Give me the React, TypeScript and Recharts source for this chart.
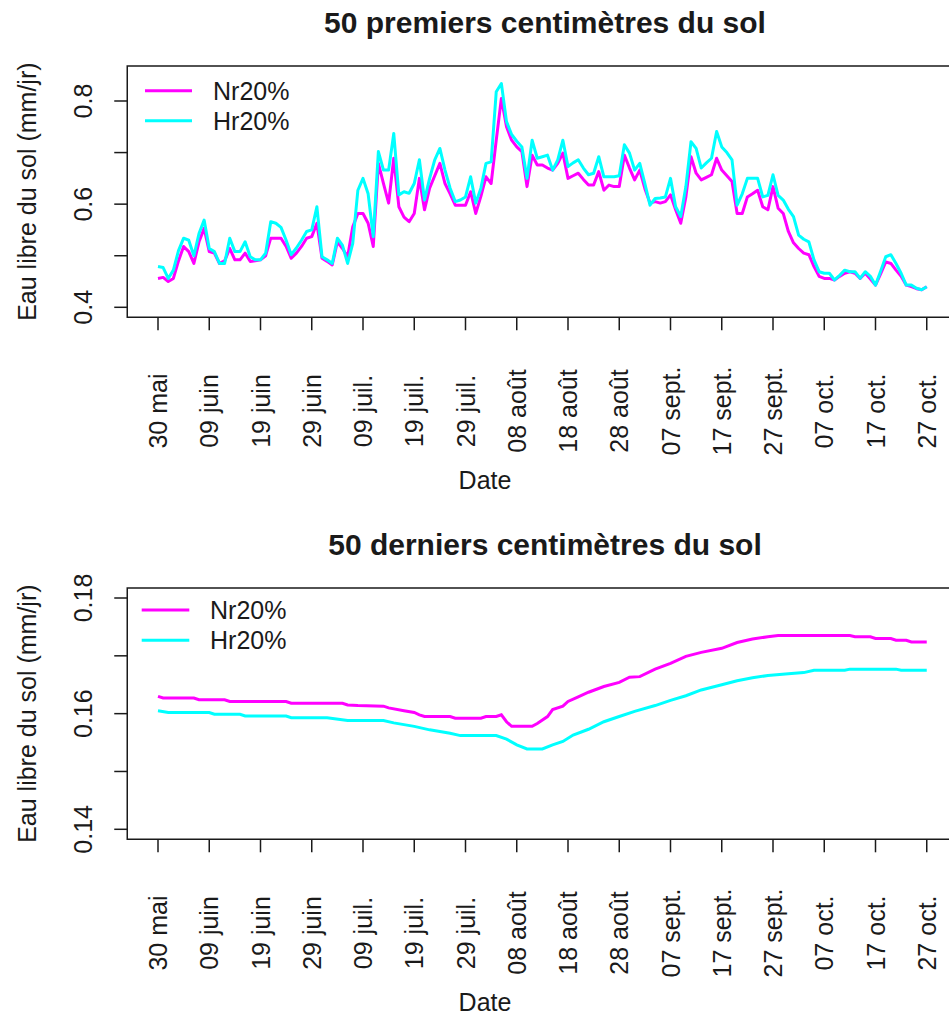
import React from "react";
import { LineChart, Line, XAxis, YAxis, ReferenceArea } from "recharts";

// day index 0 = 30 mai, ticks every 10 days
const tickDays = [0, 10, 20, 30, 40, 50, 60, 70, 80, 90, 100, 110, 120, 130, 140, 150];
const tickLabels = [
  "30 mai", "09 juin", "19 juin", "29 juin", "09 juil.", "19 juil.", "29 juil.", "08 août",
  "18 août", "28 août", "07 sept.", "17 sept.", "27 sept.", "07 oct.", "17 oct.", "27 oct.",
];

// 50 premiers centimètres (one value per day)
const nrTop = [
  0.456, 0.458, 0.450, 0.456, 0.490, 0.518, 0.508, 0.485, 0.527, 0.553,
  0.508, 0.505, 0.485, 0.490, 0.514, 0.492, 0.492, 0.505, 0.489, 0.490,
  0.492, 0.500, 0.534, 0.534, 0.534, 0.518, 0.495, 0.505, 0.518, 0.534,
  0.537, 0.563, 0.495, 0.489, 0.482, 0.527, 0.514, 0.498, 0.556, 0.582,
  0.582, 0.563, 0.518, 0.679, 0.640, 0.602, 0.689, 0.595, 0.575, 0.566,
  0.582, 0.650, 0.589, 0.631, 0.655, 0.679, 0.640, 0.620, 0.598, 0.598,
  0.598, 0.624, 0.582, 0.615, 0.653, 0.640, 0.724, 0.805, 0.750, 0.724,
  0.711, 0.702, 0.634, 0.695, 0.676, 0.676, 0.670, 0.666, 0.679, 0.699,
  0.650, 0.655, 0.660, 0.648, 0.637, 0.637, 0.663, 0.627, 0.637, 0.634,
  0.634, 0.695, 0.670, 0.647, 0.666, 0.630, 0.602, 0.605, 0.602, 0.605,
  0.618, 0.589, 0.563, 0.614, 0.692, 0.660, 0.647, 0.652, 0.657, 0.689,
  0.666, 0.655, 0.644, 0.582, 0.582, 0.614, 0.620, 0.627, 0.595, 0.589,
  0.634, 0.592, 0.582, 0.547, 0.525, 0.514, 0.505, 0.502, 0.479, 0.460,
  0.456, 0.456, 0.453, 0.460, 0.466, 0.469, 0.466, 0.456, 0.466, 0.455,
  0.443, 0.465, 0.488, 0.485, 0.472, 0.460, 0.443, 0.440, 0.436, 0.434,
  0.440,
];
const hrTop = [
  0.479, 0.477, 0.456, 0.472, 0.510, 0.534, 0.530, 0.500, 0.543, 0.569,
  0.514, 0.508, 0.485, 0.485, 0.534, 0.508, 0.508, 0.527, 0.498, 0.492,
  0.492, 0.505, 0.566, 0.563, 0.555, 0.530, 0.502, 0.515, 0.530, 0.547,
  0.550, 0.595, 0.498, 0.492, 0.485, 0.534, 0.520, 0.485, 0.524, 0.627,
  0.650, 0.620, 0.537, 0.702, 0.666, 0.666, 0.737, 0.618, 0.624, 0.621,
  0.640, 0.686, 0.608, 0.650, 0.686, 0.708, 0.666, 0.631, 0.605, 0.608,
  0.614, 0.653, 0.602, 0.631, 0.679, 0.682, 0.818, 0.834, 0.760, 0.735,
  0.722, 0.711, 0.650, 0.724, 0.689, 0.692, 0.695, 0.666, 0.686, 0.724,
  0.673, 0.680, 0.686, 0.670, 0.657, 0.660, 0.692, 0.653, 0.653, 0.653,
  0.655, 0.715, 0.699, 0.666, 0.679, 0.640, 0.598, 0.611, 0.612, 0.614,
  0.650, 0.595, 0.576, 0.634, 0.721, 0.708, 0.670, 0.680, 0.689, 0.741,
  0.711, 0.700, 0.686, 0.598, 0.620, 0.650, 0.650, 0.650, 0.614, 0.617,
  0.657, 0.617, 0.608, 0.590, 0.576, 0.540, 0.532, 0.527, 0.492, 0.469,
  0.466, 0.466, 0.453, 0.462, 0.472, 0.469, 0.469, 0.456, 0.469, 0.460,
  0.443, 0.470, 0.498, 0.502, 0.485, 0.466, 0.443, 0.443, 0.437, 0.434,
  0.440,
];

// 50 derniers centimètres (read at the days where the curve changes)
const nrBottomDays = [0, 1, 7, 8, 13, 14, 25, 26, 36, 37, 39, 44, 45, 48, 50, 51, 52, 57, 58, 63, 64, 66, 67, 68, 69, 73, 74, 76, 77, 79, 80, 82, 84, 87, 90, 92, 94, 97, 100, 103, 106, 110, 113, 116, 119, 121, 135, 136, 139, 140, 143, 144, 146, 147, 150];
const nrBottomValues = [0.163, 0.1627, 0.1627, 0.1624, 0.1624, 0.1621, 0.1621, 0.1618, 0.1618, 0.1615, 0.1614, 0.1613, 0.161, 0.1605, 0.1602, 0.1598, 0.1595, 0.1595, 0.1592, 0.1592, 0.1595, 0.1595, 0.1598, 0.1586, 0.1578, 0.1578, 0.1583, 0.1595, 0.1607, 0.1613, 0.1621, 0.1629, 0.1637, 0.1647, 0.1654, 0.1663, 0.1664, 0.1677, 0.1687, 0.1699, 0.1706, 0.1713, 0.1723, 0.1729, 0.1733, 0.1735, 0.1735, 0.1733, 0.1733, 0.173, 0.173, 0.1727, 0.1727, 0.1724, 0.1724];
const hrBottomDays = [0, 2, 10, 11, 16, 17, 25, 26, 33, 37, 44, 46, 50, 53, 57, 59, 66, 68, 70, 72, 75, 77, 79, 81, 84, 87, 90, 93, 97, 100, 103, 106, 110, 113, 116, 119, 123, 126, 128, 134, 135, 144, 145, 150];
const hrBottomValues = [0.1605, 0.1602, 0.1602, 0.1599, 0.1599, 0.1596, 0.1596, 0.1593, 0.1593, 0.1588, 0.1588, 0.1584, 0.1578, 0.1572, 0.1566, 0.1562, 0.1562, 0.1556, 0.1546, 0.1539, 0.1539, 0.1546, 0.1552, 0.1563, 0.1573, 0.1586, 0.1595, 0.1604, 0.1614, 0.1623, 0.1631, 0.1641, 0.165, 0.1657, 0.1662, 0.1666, 0.1669, 0.1671, 0.1675, 0.1675, 0.1677, 0.1677, 0.1675, 0.1675];

const seriesNames = ["Nr20%", "Hr20%"];
const seriesColors = ["#ff00ff", "#00ffff"];

const FONT = "'Liberation Sans', Arial, sans-serif";
const FS = 25;
const INK = "#1a1a1a";

const XTick = (props: any) => {
  const { x, payload } = props;
  const i = tickDays.indexOf(payload.value);
  const bx = x + 9;
  const cy = 411;
  return (
    <text x={bx} y={cy} transform={`rotate(-90 ${bx} ${cy})`} textAnchor="middle"
      fontSize={FS} fontFamily={FONT} fill={INK}>
      {tickLabels[i]}
    </text>
  );
};

const makeYTick = (labelled: number[], digits: number) => (props: any) => {
  const { y, payload } = props;
  const v = payload.value;
  const show = labelled.some((l) => Math.abs(l - v) < 1e-9);
  if (!show) return <g />;
  const bx = 92;
  return (
    <text x={bx} y={y} transform={`rotate(-90 ${bx} ${y})`} textAnchor="middle"
      fontSize={FS} fontFamily={FONT} fill={INK}>
      {v.toFixed(digits)}
    </text>
  );
};

const W = 960;
const MARGIN = { top: 66, right: 2.5, left: 0, bottom: 0 };
const PLOT_H = 251.3;

type PanelProps = {
  height: number;
  yDomain: [number, number];
  yTicks: number[];
  yLabelled: number[];
  digits: number;
  children: React.ReactNode;
};

const Panel = ({ height, yDomain, yTicks, yLabelled, digits, children }: PanelProps) => (
  <LineChart width={W} height={height} margin={MARGIN}>
    <XAxis dataKey="day" type="number" domain={[-6, 156]} ticks={tickDays} interval={0}
      allowDataOverflow axisLine={false} tickSize={13} tickLine={{ stroke: INK, strokeWidth: 1.5 }}
      tick={<XTick />} height={height - MARGIN.top - PLOT_H} allowDuplicatedCategory={false} />
    <YAxis type="number" domain={yDomain} ticks={yTicks} interval={0} allowDataOverflow
      axisLine={false} tickSize={13} tickLine={{ stroke: INK, strokeWidth: 1.5 }}
      tick={makeYTick(yLabelled, digits)} width={127.25} />
    <ReferenceArea x1={-6} x2={156} y1={yDomain[0]} y2={yDomain[1]} fill="none"
      fillOpacity={0} stroke={INK} strokeWidth={1.5} ifOverflow="visible" />
    {children}
  </LineChart>
);

type OverlayProps = {
  top: number;
  title: string;
  legendLineX: [number, number];
  legendY: [number, number];
  legendTextX: number;
};

const Overlay = ({ top, title, legendLineX, legendY, legendTextX }: OverlayProps) => {
  const plotMid = top + MARGIN.top + PLOT_H / 2;
  return (
    <g fontFamily={FONT} fill={INK}>
      <text x={545} y={top + 33} textAnchor="middle" fontSize={30} fontWeight="bold">{title}</text>
      <text x={36} y={plotMid} transform={`rotate(-90 36 ${plotMid})`} textAnchor="middle" fontSize={FS}>
        Eau libre du sol (mm/jr)
      </text>
      <text x={485} y={top + 489} textAnchor="middle" fontSize={FS}>Date</text>
      {seriesNames.map((n, i) => (
        <g key={n}>
          <line x1={legendLineX[0]} x2={legendLineX[1]} y1={legendY[i]} y2={legendY[i]}
            stroke={seriesColors[i]} strokeWidth={3} />
          <text x={legendTextX} y={legendY[i] + 9} fontSize={FS}>{n}</text>
        </g>
      ))}
    </g>
  );
};

export default function App() {
  const topData = nrTop.map((v, i) => ({ day: i, nr: v, hr: hrTop[i] }));
  const nrBottom = nrBottomDays.map((d, i) => ({ day: d, v: nrBottomValues[i] }));
  const hrBottom = hrBottomDays.map((d, i) => ({ day: d, v: hrBottomValues[i] }));
  return (
    <div style={{ position: "absolute", left: 0, top: 0, width: 949, height: 1029, overflow: "hidden", background: "#fff" }}>
      <div style={{ position: "absolute", left: 0, top: 0 }}>
        <Panel height={522} yDomain={[0.38061, 0.86786]} yTicks={[0.4, 0.5, 0.6, 0.7, 0.8]}
          yLabelled={[0.4, 0.6, 0.8]} digits={1}>
          <Line data={topData} dataKey="nr" stroke={seriesColors[0]} strokeWidth={3} dot={false}
            isAnimationActive={false} strokeLinejoin="round" />
          <Line data={topData} dataKey="hr" stroke={seriesColors[1]} strokeWidth={3} dot={false}
            isAnimationActive={false} strokeLinejoin="round" />
        </Panel>
      </div>
      <div style={{ position: "absolute", left: 0, top: 522 }}>
        <Panel height={507} yDomain={[0.13827, 0.18173]} yTicks={[0.14, 0.15, 0.16, 0.17, 0.18]}
          yLabelled={[0.14, 0.16, 0.18]} digits={2}>
          <Line data={nrBottom} dataKey="v" stroke={seriesColors[0]} strokeWidth={3} dot={false}
            isAnimationActive={false} />
          <Line data={hrBottom} dataKey="v" stroke={seriesColors[1]} strokeWidth={3} dot={false}
            isAnimationActive={false} />
        </Panel>
      </div>
      <svg width={949} height={1029} style={{ position: "absolute", left: 0, top: 0, pointerEvents: "none" }}>
        <Overlay top={0} title="50 premiers centimètres du sol" legendLineX={[145, 192]}
          legendY={[90.7, 120.7]} legendTextX={213} />
        <Overlay top={522} title="50 derniers centimètres du sol" legendLineX={[141.7, 189.3]}
          legendY={[610, 640.3]} legendTextX={210} />
      </svg>
    </div>
  );
}
